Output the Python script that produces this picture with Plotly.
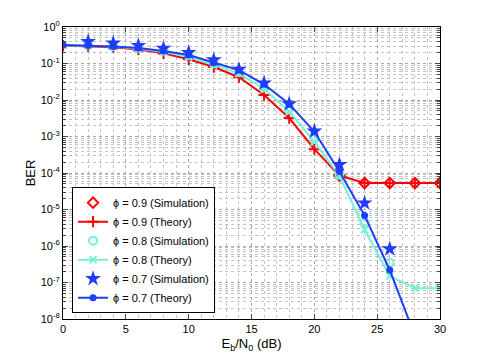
import plotly.graph_objects as go

# Eb/N0 in dB
snr = [0, 2, 4, 6, 8, 10, 12, 14, 16, 18, 20, 22, 24, 26, 28, 30]

# phi = 0.9
sim_09 = [None, None, None, None, None, None, None, None, None, None, None, 8.5e-5, 5.3e-5, 5.3e-5, 5.3e-5, 5.3e-5]
th_09 = [0.31, 0.30, 0.28, 0.24, 0.19, 0.13, 0.080, 0.042, 0.0137, 0.0032, 4.5e-4, 8.5e-5, 5.3e-5, 5.3e-5, 5.3e-5, 5.3e-5]
# phi = 0.8
sim_08 = [None, 0.33, 0.30, 0.27, 0.225, 0.17, 0.10, 0.058, 0.022, 0.0055, 8.5e-4, 9e-5, 4.4e-6, 3.5e-7, None, None]
th_08 = [0.315, 0.305, 0.29, 0.255, 0.21, 0.15, 0.092, 0.053, 0.020, 0.0048, 7.2e-4, 8.3e-5, 2.8e-6, 1.5e-7, 7e-8, 7e-8]
# phi = 0.7
sim_07 = [None, 0.40, 0.36, 0.31, 0.26, 0.20, 0.125, 0.069, 0.029, 0.0078, 1.4e-3, 1.7e-4, 1.5e-5, 8.3e-7, None, None]
th_07 = [0.32, 0.31, 0.29, 0.265, 0.22, 0.17, 0.105, 0.066, 0.027, 0.0078, 1.35e-3, 1.1e-4, 6.8e-6, 2.2e-7, 3.5e-9, None]

ytickvals = [1e0, 1e-1, 1e-2, 1e-3, 1e-4, 1e-5, 1e-6, 1e-7, 1e-8]
yticktext = ['10<sup>0</sup>', '10<sup>-1</sup>', '10<sup>-2</sup>', '10<sup>-3</sup>', '10<sup>-4</sup>',
             '10<sup>-5</sup>', '10<sup>-6</sup>', '10<sup>-7</sup>', '10<sup>-8</sup>']

red = '#ff0000'
cyan = '#74f2d6'
blue = '#1f3cff'

fig = go.Figure()
fig.add_trace(go.Scatter(x=snr, y=sim_09, name='ϕ = 0.9 (Simulation)', mode='markers',
                         marker=dict(symbol='diamond-open', size=8, color=red, line=dict(width=2, color=red))))
fig.add_trace(go.Scatter(x=snr, y=th_09, name='ϕ = 0.9 (Theory)', mode='lines+markers',
                         line=dict(color=red, width=2),
                         marker=dict(symbol='cross-thin-open', size=8, color=red, line=dict(width=2, color=red))))
fig.add_trace(go.Scatter(x=snr, y=sim_08, name='ϕ = 0.8 (Simulation)', mode='markers',
                         marker=dict(symbol='circle-open', size=8, color=cyan, line=dict(width=2, color=cyan))))
fig.add_trace(go.Scatter(x=snr, y=th_08, name='ϕ = 0.8 (Theory)', mode='lines+markers',
                         line=dict(color=cyan, width=2),
                         marker=dict(symbol='x-thin-open', size=7, color=cyan, line=dict(width=2, color=cyan))))
fig.add_trace(go.Scatter(x=snr, y=sim_07, name='ϕ = 0.7 (Simulation)', mode='markers',
                         marker=dict(symbol='star', size=12, color=blue, line=dict(width=0))))
fig.add_trace(go.Scatter(x=snr, y=th_07, name='ϕ = 0.7 (Theory)', mode='lines+markers',
                         line=dict(color=blue, width=2),
                         marker=dict(symbol='circle', size=7, color=blue)))

fig.update_xaxes(range=[0, 30], dtick=5, ticks='inside', ticklen=5, mirror='ticks', automargin=False,
                 showline=True, linecolor='black', linewidth=1, zeroline=False,
                 gridcolor='#a8a8a8', griddash='dot',
                 minor=dict(dtick=1, showgrid=True, gridcolor='#c4c4c4', griddash='dot', ticks=''),
                 title=dict(text='E<sub>b</sub>/N<sub>0</sub> (dB)', standoff=4),
                 tickfont=dict(size=11))
fig.update_yaxes(type='log', range=[-8, 0], tickvals=ytickvals, ticktext=yticktext, automargin=False,
                 ticks='inside', ticklen=5, mirror='ticks', showline=True, linecolor='black', linewidth=1,
                 gridcolor='#a8a8a8', griddash='dot',
                 minor=dict(dtick='D1', showgrid=True, gridcolor='#c4c4c4', griddash='dot', ticks='inside', ticklen=3),
                 title=dict(text='BER', standoff=2),
                 tickfont=dict(size=11))

fig.update_layout(width=485, height=360, plot_bgcolor='white', paper_bgcolor='white',
                  margin=dict(l=55, r=53, t=19, b=49),
                  font=dict(family='Liberation Sans, Arial, sans-serif', size=11, color='black'),
                  legend=dict(x=0.024, y=0.02, xanchor='left', yanchor='bottom',
                              bordercolor='black', borderwidth=1, bgcolor='white',
                              font=dict(size=11), tracegroupgap=0),
                  showlegend=True)

fig.write_html('out.html')
